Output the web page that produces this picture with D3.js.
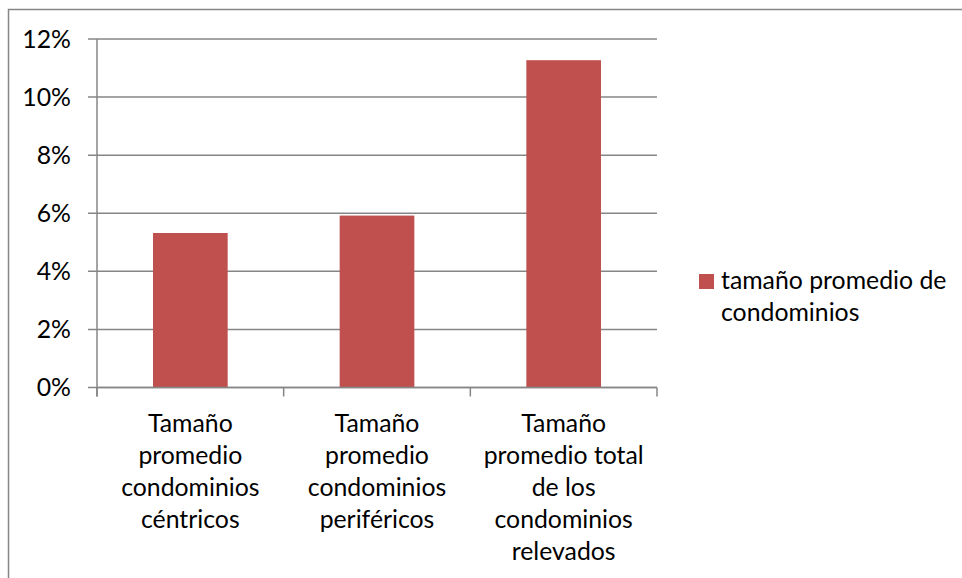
<!DOCTYPE html>
<html>
<head>
<meta charset="utf-8">
<script src="https://cdn.jsdelivr.net/npm/d3@7"></script>
<style>
  body { margin: 0; background: #fff; }
  text { font-family: Lato, "Open Sans", sans-serif; fill: #000; }
</style>
</head>
<body>
<svg id="chart" width="962" height="578"></svg>
<script>
const categories = [
  ["Tamaño", "promedio", "condominios", "céntricos"],
  ["Tamaño", "promedio", "condominios", "periféricos"],
  ["Tamaño", "promedio total", "de los", "condominios", "relevados"]
];
const values = [0.0532, 0.0592, 0.1127];
const yTicks = [0, 0.02, 0.04, 0.06, 0.08, 0.10, 0.12];
const seriesName = ["tamaño promedio de", "condominios"];

const svg = d3.select("#chart");
const gridColor = "#868686";
const barColor = "#C0504D";
const fontSize = 24.8;
const lineH = 32;

// outer frame (cropped at right and bottom)
svg.append("path")
  .attr("d", "M8.5,578 L8.5,9.5 L962,9.5")
  .attr("fill", "none").attr("stroke", gridColor).attr("stroke-width", 1.5);

const plotL = 97, plotR = 657, plotT = 39, plotB = 387.5;
const idx = d3.range(values.length);

const x = d3.scaleBand().domain(idx).range([plotL, plotR]).padding(0);
const y = d3.scaleLinear().domain([0, 0.12]).range([plotB, plotT]);

// gridlines
svg.append("g").selectAll("line").data(yTicks).join("line")
  .attr("x1", plotL - 9).attr("x2", plotR)
  .attr("y1", (d) => y(d)).attr("y2", (d) => y(d))
  .attr("stroke", gridColor).attr("stroke-width", 1.5);

// y axis line
svg.append("line")
  .attr("x1", plotL).attr("x2", plotL).attr("y1", plotT).attr("y2", plotB + 9)
  .attr("stroke", gridColor).attr("stroke-width", 1.5);

// y tick labels
svg.append("g").selectAll("text").data(yTicks).join("text")
  .attr("x", 71).attr("y", (d) => y(d))
  .attr("dy", "0.35em")
  .attr("text-anchor", "end")
  .style("font-size", fontSize + "px")
  .text((d) => d3.format(".0%")(d));

// bars
const barW = x.bandwidth() * 0.4;
svg.append("g").selectAll("rect").data(values).join("rect")
  .attr("x", (d, i) => x(i) + (x.bandwidth() - barW) / 2)
  .attr("width", barW)
  .attr("y", (d) => y(d))
  .attr("height", (d) => y(0) - y(d))
  .attr("fill", barColor);

// x axis baseline + ticks at band edges
svg.append("line")
  .attr("x1", plotL).attr("x2", plotR).attr("y1", plotB).attr("y2", plotB)
  .attr("stroke", gridColor).attr("stroke-width", 1.5);
const edges = idx.map((i) => x(i)).concat([plotR]);
svg.append("g").selectAll("line").data(edges).join("line")
  .attr("x1", (d) => d).attr("x2", (d) => d)
  .attr("y1", plotB).attr("y2", plotB + 9)
  .attr("stroke", gridColor).attr("stroke-width", 1.5);

// category labels
const catG = svg.append("g").selectAll("text").data(categories).join("text")
  .attr("text-anchor", "middle")
  .style("font-size", fontSize + "px");
catG.selectAll("tspan").data((d, i) => d.map((line) => ({ line, i }))).join("tspan")
  .attr("x", (d) => x(d.i) + x.bandwidth() / 2)
  .attr("y", (d, j) => 431.5 + j * lineH)
  .text((d) => d.line);

// legend
svg.append("rect")
  .attr("x", 699).attr("y", 274).attr("width", 15).attr("height", 15)
  .attr("fill", barColor);
svg.append("text")
  .style("font-size", fontSize + "px")
  .selectAll("tspan").data(seriesName).join("tspan")
  .attr("x", 721).attr("y", (d, j) => 288.5 + j * lineH)
  .text((d) => d);
</script>
</body>
</html>
